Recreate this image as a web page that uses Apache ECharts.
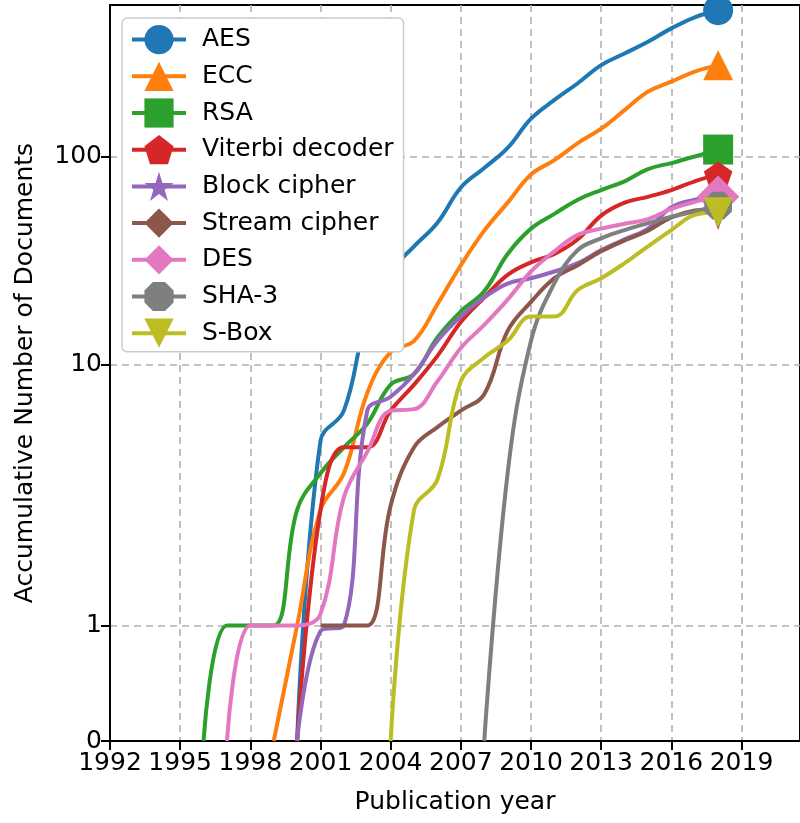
<!DOCTYPE html>
<html>
<head>
<meta charset="utf-8">
<script src="https://cdn.jsdelivr.net/npm/echarts@6/dist/echarts.min.js"></script>
<style>
  html, body { margin: 0; padding: 0; background: #fff; }
  #chart { width: 800px; height: 823px; }
</style>
</head>
<body>
<div id="chart"></div>
<script>
// yearly cumulative counts, null = series not started yet
const years = [1996, 1997, 1998, 1999, 2000, 2001, 2002, 2003, 2004, 2005, 2006, 2007,
  2008, 2009, 2010, 2011, 2012, 2013, 2014, 2015, 2016, 2017, 2018];

const aes = [null, null, null, null, 0, 4.3, 6, 17, 28, 37, 48, 71, 88, 110, 152, 187, 225, 275, 313, 356, 413, 467, 505];
const ecc = [null, null, null, 0, 1, 2, 3, 7.3, 11.5, 13, 19.5, 30, 44, 60, 82, 96, 116, 136, 167, 205, 229, 256, 275];
const rsa = [0, 1, 1, 1, 2, 3, 4, 5.2, 8, 9, 13.5, 18, 22.5, 34, 45, 53, 62, 69, 76, 87, 93, 100, 108];
const viterbi = [null, null, null, null, 0, 2, 4, 4, 6, 8, 11, 16, 21, 27, 31, 34, 40, 52, 60, 64, 69, 76, 82];
const blockCipher = [null, null, null, null, 0, 0.95, 1, 6, 7, 9, 13, 17, 21, 24.5, 26, 28, 30.7, 35.5, 40, 45, 57, 62, 65];
const streamCipher = [null, null, null, null, null, 1, 1, 1, 2.1, 4, 5, 6, 7.2, 14.5, 20, 26, 30, 35, 39.5, 44, 51, 55, 56];
const des = [null, 0, 1, 1, 1, 1.1, 2.3, 3.8, 6, 6.1, 8.3, 12, 15.5, 20.5, 28, 35, 42, 45, 47.5, 50, 56, 60.5, 64];
const sha3 = [null, null, null, null, null, null, null, null, null, null, null, null, 0, 3, 13, 24.6, 35.5, 40.4, 44.3, 47.8, 51.4, 54.3, 58];
const sbox = [null, null, null, null, null, null, null, null, 0, 2, 2.8, 8.3, 10.8, 13, 17, 17, 22.8, 26, 30.7, 37, 44.3, 52.4, 54];

const xTicks = [1992, 1995, 1998, 2001, 2004, 2007, 2010, 2013, 2016, 2019];
const yTickValues = [0, 1, 10, 100];
const yTickLabels = ['0', '1', '10', '100'];

// same as matplotlib symlog (base 10, linthresh 2, linscale 1)
const LINTHRESH = 2;
const LINSCALE_ADJ = 1 / (1 - 1 / 10);
function symlog(v) {
  if (v <= LINTHRESH) return v * LINSCALE_ADJ;
  return LINTHRESH * (LINSCALE_ADJ + Math.log10(v / LINTHRESH));
}
const yTickPos = yTickValues.map(symlog);

const FONT = 'DejaVu Sans';
const starPath = 'path://M50 0 L61.23 34.55 L97.55 34.55 L68.17 55.9 L79.39 90.45 L50 69.1 L20.61 90.45 L31.83 55.9 L2.45 34.55 L38.77 34.55 Z';
const pentagonPath = 'path://M50 0 L97.55 34.55 L79.39 90.45 L20.61 90.45 L2.45 34.55 Z';
const octagonPath = 'path://M96.19 69.13 L69.13 96.19 L30.87 96.19 L3.81 69.13 L3.81 30.87 L30.87 3.81 L69.13 3.81 L96.19 30.87 Z';
const triDownPath = 'path://M0 0 L100 0 L50 100 Z';
const thinDiamondPath = 'path://M30 0 L60 50 L30 100 L0 50 Z';

const seriesDefs = [
  { name: 'AES', data: aes, color: '#1f77b4', symbol: 'circle', size: [30, 30] },
  { name: 'ECC', data: ecc, color: '#ff7f0e', symbol: 'triangle', size: [30, 30] },
  { name: 'RSA', data: rsa, color: '#2ca02c', symbol: 'rect', size: [30, 30] },
  { name: 'Viterbi decoder', data: viterbi, color: '#d62728', symbol: pentagonPath, size: [28.5, 27.1] },
  { name: 'Block cipher', data: blockCipher, color: '#9467bd', symbol: starPath, size: [28.5, 27.1] },
  { name: 'Stream cipher', data: streamCipher, color: '#8c564b', symbol: thinDiamondPath, size: [25.5, 42.4] },
  { name: 'DES', data: des, color: '#e377c2', symbol: 'diamond', size: [42.4, 42.4] },
  { name: 'SHA-3', data: sha3, color: '#7f7f7f', symbol: octagonPath, size: [27.7, 27.7] },
  { name: 'S-Box', data: sbox, color: '#bcbd22', symbol: triDownPath, size: [30, 30] }
];

const series = seriesDefs.map(function (d) {
  const pts = [];
  years.forEach(function (y, i) {
    if (d.data[i] !== null) pts.push([y, symlog(d.data[i])]);
  });
  const last = pts.length - 1;
  return {
    name: d.name,
    type: 'line',
    data: pts,
    smooth: 0.4,
    symbol: d.symbol,
    symbolKeepAspect: true,
    symbolSize: function (v, p) { return p.dataIndex === last ? d.size : 0; },
    showSymbol: true,
    clip: true,
    color: d.color,
    lineStyle: { width: 4, color: d.color },
    itemStyle: { color: d.color },
    emphasis: { disabled: true }
  };
});

const gridLine = { show: true, lineStyle: { color: '#b0b0b0', width: 1.6, type: [7, 5] } };

const chart = echarts.init(document.getElementById('chart'));
chart.setOption({
  animation: false,
  backgroundColor: '#fff',
  textStyle: { fontFamily: FONT },
  grid: {
    left: 110, top: 5, right: -3, bottom: 82,
    show: true, borderColor: '#000', borderWidth: 2, backgroundColor: 'transparent'
  },
  legend: {
    orient: 'vertical',
    left: 122,
    top: 18,
    padding: [7, 10, 4, 8],
    itemWidth: 54,
    itemHeight: 36.5,
    itemGap: 7.5,
    lineStyle: { width: 4 },
    backgroundColor: '#fff',
    borderColor: '#cccccc',
    borderWidth: 1.5,
    borderRadius: 5,
    textStyle: { fontFamily: FONT, fontSize: 25, color: '#000', padding: [0, 0, 0, 11] },
    data: seriesDefs.map(function (d) { return d.name; })
  },
  xAxis: {
    type: 'value',
    min: 1992,
    max: 2021.5,
    name: 'Publication year',
    nameLocation: 'middle',
    nameGap: 49,
    nameTextStyle: { fontFamily: FONT, fontSize: 25, color: '#000' },
    axisLine: { show: true, lineStyle: { color: '#000', width: 2 } },
    axisTick: { show: true, length: 9, lineStyle: { color: '#000', width: 2 }, customValues: xTicks },
    axisLabel: {
      fontFamily: FONT, fontSize: 25, color: '#000', margin: 10,
      customValues: xTicks,
      formatter: function (v) { return String(Math.round(v)); }
    },
    splitLine: Object.assign({ customValues: xTicks }, gridLine)
  },
  yAxis: {
    type: 'value',
    min: 0,
    max: 7.077,
    name: 'Accumulative Number of Documents',
    nameLocation: 'middle',
    nameGap: 72,
    nameTextStyle: { fontFamily: FONT, fontSize: 25, color: '#000' },
    axisLine: { show: true, lineStyle: { color: '#000', width: 2 } },
    axisTick: { show: true, length: 9, lineStyle: { color: '#000', width: 2 }, customValues: yTickPos },
    axisLabel: {
      fontFamily: FONT, fontSize: 25, color: '#000', margin: 8,
      customValues: yTickPos,
      formatter: function (v) {
        let best = 0;
        yTickPos.forEach(function (p, i) { if (Math.abs(p - v) < Math.abs(yTickPos[best] - v)) best = i; });
        return yTickLabels[best];
      }
    },
    splitLine: Object.assign({ customValues: yTickPos }, gridLine)
  },
  series: series
});
</script>
</body>
</html>
